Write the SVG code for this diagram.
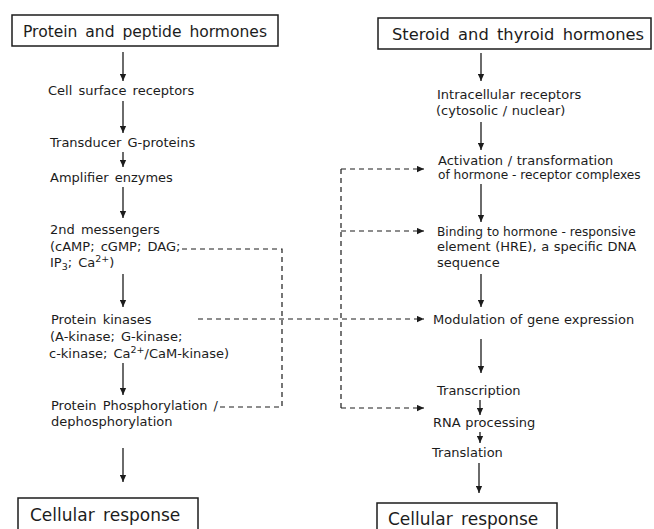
<svg xmlns="http://www.w3.org/2000/svg" width="654" height="529" viewBox="0 0 654 529">
<defs>
<marker id="ah" viewBox="0 0 10 10" refX="10" refY="5" markerWidth="7" markerHeight="7" markerUnits="userSpaceOnUse" orient="auto">
<path d="M0,0.5 L10,5 L0,9.5 z" fill="#1c1c1c"/>
</marker>
</defs>
<style>
.t{font-family:"DejaVu Sans","Liberation Sans",sans-serif;font-size:13px;fill:#1c1c1c;word-spacing:2px}
.r{word-spacing:0.5px}
.n{font-size:12.2px;word-spacing:0px}
.h{font-family:"DejaVu Sans","Liberation Sans",sans-serif;font-size:16px;fill:#1c1c1c;word-spacing:3px}
.hb{font-size:17px}
.box{fill:none;stroke:#1c1c1c;stroke-width:1.5}
.a{stroke:#1c1c1c;stroke-width:1.3;fill:none;marker-end:url(#ah)}
.d{stroke:#1c1c1c;stroke-width:1.2;fill:none;stroke-dasharray:5 4}
.da{stroke:#1c1c1c;stroke-width:1.2;fill:none;stroke-dasharray:5 4;marker-end:url(#ah)}
.sup{font-size:9.5px}
</style>
<rect width="654" height="529" fill="#ffffff"/>

<g id="protein-hormones"><rect class="box" x="12" y="15" width="266" height="31"/><text class="h" x="23" y="37" textLength="244" lengthAdjust="spacingAndGlyphs">Protein and peptide hormones</text></g>
<g id="cell-surface-receptors"><text class="t" x="48" y="95">Cell surface receptors</text></g>
<g id="transducer"><text class="t" x="50" y="147">Transducer G-proteins</text></g>
<g id="amplifier"><text class="t" x="50" y="182">Amplifier enzymes</text></g>
<g id="second-messengers"><text class="t" x="50" y="234">2nd messengers</text><text class="t" x="50" y="251">(cAMP; cGMP; DAG;</text><text class="t" x="50" y="267">IP<tspan class="sup" dy="3">3</tspan><tspan dy="-3">; Ca</tspan><tspan class="sup" dy="-5">2+</tspan><tspan dy="5">)</tspan></text></g>
<g id="protein-kinases"><text class="t" x="51" y="324">Protein kinases</text><text class="t" x="50" y="341">(A-kinase; G-kinase;</text><text class="t" x="49" y="358">c-kinase; Ca<tspan class="sup" dy="-5">2+</tspan><tspan dy="5">/CaM-kinase)</tspan></text></g>
<g id="phosphorylation"><text class="t" x="51" y="410">Protein Phosphorylation /</text><text class="t" x="51" y="426">dephosphorylation</text></g>
<g id="cellular-response-left"><rect class="box" x="18" y="498" width="180" height="45"/><text class="h hb" x="30" y="521">Cellular response</text></g>

<g id="steroid-hormones"><rect class="box" x="378" y="18" width="273" height="31"/><text class="h" x="392" y="40" textLength="252" lengthAdjust="spacingAndGlyphs">Steroid and thyroid hormones</text></g>
<g id="intracellular-receptors"><text class="t r" x="437" y="99">Intracellular receptors</text><text class="t r" x="436" y="115">(cytosolic / nuclear)</text></g>
<g id="activation"><text class="t r" x="438" y="165">Activation / transformation</text><text class="t n" x="438" y="179">of hormone - receptor complexes</text></g>
<g id="binding"><text class="t n" x="437" y="236">Binding to hormone - responsive</text><text class="t r" x="437" y="251">element (HRE), a specific DNA</text><text class="t r" x="437" y="267">sequence</text></g>
<g id="modulation"><text class="t r" x="433" y="324">Modulation of gene expression</text></g>
<g id="transcription"><text class="t r" x="437" y="395">Transcription</text></g>
<g id="rna-processing"><text class="t r" x="433" y="427">RNA processing</text></g>
<g id="translation"><text class="t r" x="432" y="457">Translation</text></g>
<g id="cellular-response-right"><rect class="box" x="377" y="503" width="180" height="45"/><text class="h hb" x="388" y="525">Cellular response</text></g>

<g id="connectors">
<line class="a" x1="123" y1="52" x2="123" y2="81"/>
<line class="a" x1="123" y1="101" x2="123" y2="133"/>
<line class="a" x1="123" y1="152" x2="123" y2="167"/>
<line class="a" x1="123" y1="187" x2="123" y2="218"/>
<line class="a" x1="123" y1="274" x2="123" y2="307"/>
<line class="a" x1="123" y1="363" x2="123" y2="395"/>
<line class="a" x1="123" y1="448" x2="123" y2="482"/>

<line class="a" x1="481" y1="53" x2="481" y2="81"/>
<line class="a" x1="481" y1="122" x2="481" y2="150"/>
<line class="a" x1="481" y1="184" x2="481" y2="222"/>
<line class="a" x1="481" y1="274" x2="481" y2="307"/>
<line class="a" x1="481" y1="339" x2="481" y2="373"/>
<line class="a" x1="480" y1="400" x2="480" y2="415"/>
<line class="a" x1="480" y1="432" x2="480" y2="443"/>
<line class="a" x1="479" y1="463" x2="479" y2="493"/>

<path class="d" d="M182,249 H282 V407 H218"/>
<path class="da" d="M198,319 H424"/>
<path class="d" d="M341,169 V408"/>
<path class="da" d="M341,169 H424"/>
<path class="da" d="M341,231 H424"/>
<path class="da" d="M341,408 H424"/>
</g>
</svg>
